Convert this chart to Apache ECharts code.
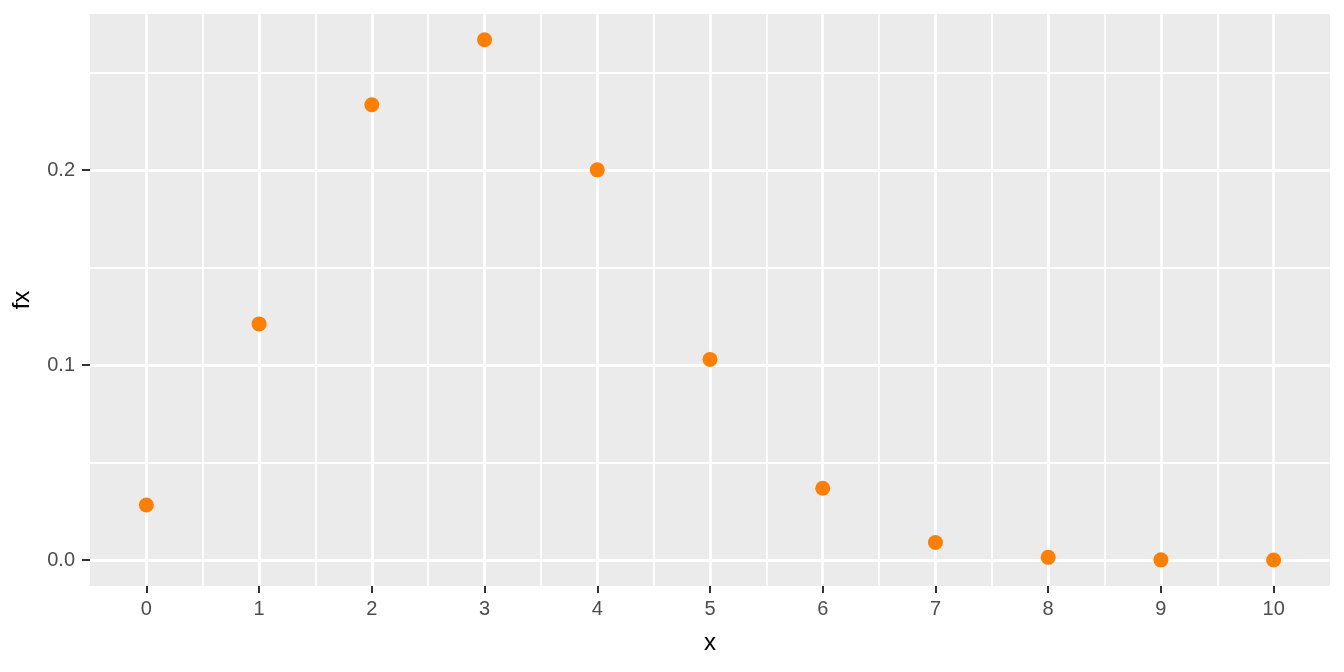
<!DOCTYPE html>
<html>
<head>
<meta charset="utf-8">
<script src="https://cdn.jsdelivr.net/npm/echarts@6/dist/echarts.min.js"></script>
<style>
    html, body { margin: 0; padding: 0; background: #fff; }
    #chart { width: 1344px; height: 672px; }
</style>
</head>
<body>
<div id="chart"></div>
<script>
// values
const xValues = [0, 1, 2, 3, 4, 5, 6, 7, 8, 9, 10];
const fxValues = [0.0282, 0.1211, 0.2335, 0.2668, 0.2001, 0.1029, 0.0368, 0.0090, 0.0014, 0.0001, 0.0000];

const xMajor = [0, 1, 2, 3, 4, 5, 6, 7, 8, 9, 10];
const xMinor = [0.5, 1.5, 2.5, 3.5, 4.5, 5.5, 6.5, 7.5, 8.5, 9.5];
const yMajor = [0, 0.1, 0.2];
const yMinor = [0.05, 0.15, 0.25];

const font = '"Liberation Sans", Arial, sans-serif';

let chart = echarts.init(document.getElementById('chart'));

// grid lines drawn as mark lines so major/minor widths can differ
function gridLines (values, axis, width) {
    return {
        type: 'line',
        data: [],
        silent: true,
        markLine: {
            silent: true,
            symbol: 'none',
            z: 1,
            animation: false,
            label: { show: false },
            lineStyle: { color: '#ffffff', width: width, type: 'solid' },
            data: values.map(v => ({ [axis]: v }))
        }
    };
}

const opts = {
    animation: false,
    grid: {
        left: 90,
        right: 14,
        top: 14,
        bottom: 86,
        show: true,
        backgroundColor: '#EBEBEB',
        borderWidth: 0
    },
    xAxis: {
        type: 'value',
        min: -0.5,
        max: 10.5,
        name: 'x',
        nameLocation: 'middle',
        nameGap: 45,
        nameTextStyle: { color: '#000', fontSize: 24, fontFamily: font },
        axisLine: { show: false, onZero: false },
        splitLine: { show: false },
        axisTick: {
            show: true,
            customValues: xMajor,
            length: 7,
            lineStyle: { color: '#333333', width: 2 }
        },
        axisLabel: {
            customValues: xMajor,
            color: '#4D4D4D',
            fontSize: 20,
            fontFamily: font,
            margin: 13
        }
    },
    yAxis: {
        type: 'value',
        min: -0.0133,
        max: 0.28,
        name: 'fx',
        nameLocation: 'middle',
        nameGap: 56,
        nameRotate: 90,
        nameTextStyle: { color: '#000', fontSize: 24, fontFamily: font },
        axisLine: { show: false, onZero: false },
        splitLine: { show: false },
        axisTick: {
            show: true,
            customValues: yMajor,
            length: 8,
            lineStyle: { color: '#333333', width: 2 }
        },
        axisLabel: {
            customValues: yMajor,
            color: '#4D4D4D',
            fontSize: 20,
            fontFamily: font,
            margin: 15,
            formatter: v => v.toFixed(1)
        }
    },
    series: [
        gridLines(xMinor, 'xAxis', 1.8),
        gridLines(yMinor, 'yAxis', 1.8),
        gridLines(xMajor, 'xAxis', 2.8),
        gridLines(yMajor, 'yAxis', 2.8),
        {
            type: 'scatter',
            z: 5,
            symbolSize: 15,
            itemStyle: { color: '#FF7F00', opacity: 1 },
            data: xValues.map((x, i) => [x, fxValues[i]])
        }
    ]
};
chart.setOption(opts);
</script>
</body>
</html>
